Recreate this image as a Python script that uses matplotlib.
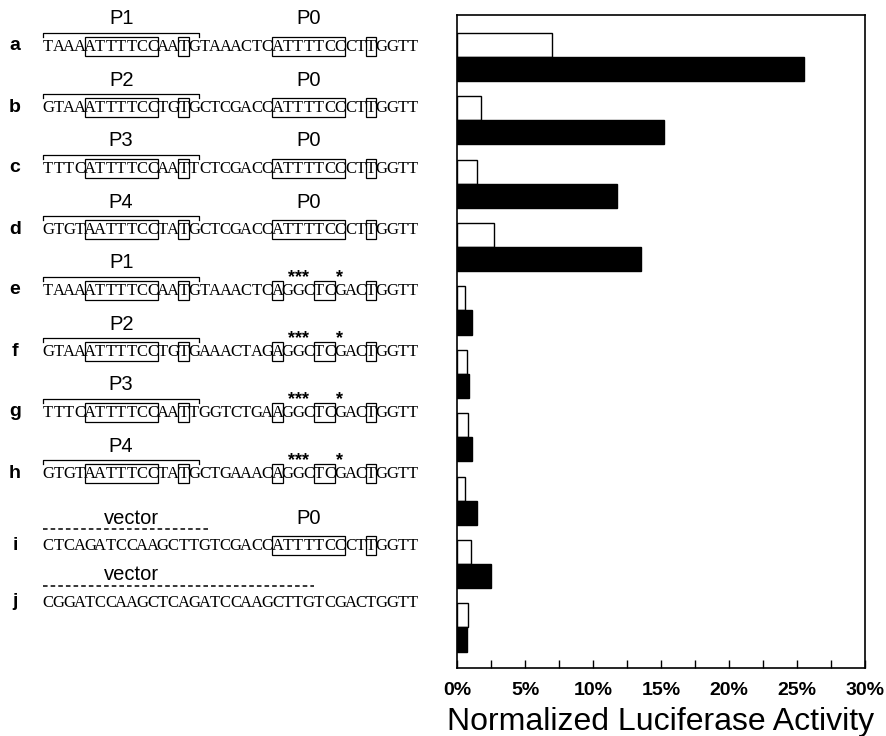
import matplotlib
matplotlib.use("Agg")
import matplotlib.pyplot as plt
from matplotlib.patches import Rectangle
from matplotlib.ticker import MultipleLocator, FuncFormatter

# --------------------------------------------------------------------------- #
# Data.
# --------------------------------------------------------------------------- #
row_letters = ["a", "b", "c", "d", "e", "f", "g", "h", "i", "j"]
sequences = [
    "TAAAATTTTCCAATGTAAACTCATTTTCCCTTGGTT",
    "GTAAATTTTCCTGTGCTCGACCATTTTCCCTTGGTT",
    "TTTCATTTTCCAATTCTCGACCATTTTCCCTTGGTT",
    "GTGTAATTTCCTATGCTCGACCATTTTCCCTTGGTT",
    "TAAAATTTTCCAATGTAAACTCAGGCTCGACTGGTT",
    "GTAAATTTTCCTGTGAAACTAGAGGCTCGACTGGTT",
    "TTTCATTTTCCAATTGGTCTGAAGGCTCGACTGGTT",
    "GTGTAATTTCCTATGCTGAAACAGGCTCGACTGGTT",
    "CTCAGATCCAAGCTTGTCGACCATTTTCCCTTGGTT",
    "CGGATCCAAGCTCAGATCCAAGCTTGTCGACTGGTT",
]
left_labels = ["P1", "P2", "P3", "P4", "P1", "P2", "P3", "P4", "vector", "vector"]
p0_present = [True, True, True, True, False, False, False, False, True, False]
# boxed nucleotides as (first index, count)
p_boxes = [(4, 7), (13, 1)]
p0_boxes = [(22, 7), (31, 1)]
mut_boxes = [(22, 1), (26, 2), (31, 1)]
# mutated positions marked with stars: (centre index, marker text)
mut_stars = [(24, "***"), (28, "*")]
bracket_len = 15
vector_len = {8: 16, 9: 26}

open_vals = [7.0, 1.8, 1.5, 2.7, 0.6, 0.7, 0.8, 0.6, 1.0, 0.8]
filled_vals = [25.5, 15.2, 11.8, 13.5, 1.1, 0.9, 1.1, 1.5, 2.5, 0.7]

# --------------------------------------------------------------------------- #
# Figure.
# --------------------------------------------------------------------------- #
W, H = 886, 736
fig = plt.figure(figsize=(W / 100, H / 100), dpi=100)

# left panel in pixel coordinates
axs = fig.add_axes([0, 0, 1, 1])
axs.set_xlim(0, W)
axs.set_ylim(H, 0)
axs.axis("off")

x0 = 43
cw = 10.42
row_y = [46, 107, 168, 229, 290, 351, 412, 473, 545, 602]
serif = "Liberation Serif"
sans = "Liberation Sans"


def cx(i):
    return x0 + (i + 0.5) * cw


def draw_box(y, start, n):
    axs.add_patch(Rectangle((x0 + start * cw, y - 9), n * cw, 19,
                            fill=False, lw=0.9, ec="black"))


for k, seq in enumerate(sequences):
    y = row_y[k]
    axs.text(15, y, row_letters[k], ha="center", va="center",
             fontsize=14, fontweight="bold", family=sans)
    for i, ch in enumerate(seq):
        axs.text(cx(i), y + 1, ch, ha="center", va="center",
                 fontsize=12, family=serif)

    if k in vector_len:
        n = vector_len[k]
        axs.plot([x0, x0 + n * cw], [y - 16, y - 16], color="black",
                 lw=1.1, ls=(0, (3, 2)))
        axs.text(cx(8), y - 27, left_labels[k], ha="center", va="center",
                 fontsize=14.5, family=sans)
    else:
        by = y - 13
        xe = x0 + bracket_len * cw
        axs.plot([x0, x0, xe, xe], [by + 4, by, by, by + 4],
                 color="black", lw=0.9)
        axs.text((x0 + xe) / 2, y - 27, left_labels[k], ha="center",
                 va="center", fontsize=14.5, family=sans)
        for s, n in p_boxes:
            draw_box(y, s, n)

    if p0_present[k]:
        for s, n in p0_boxes:
            draw_box(y, s, n)
        axs.text(x0 + 25.5 * cw, y - 27, "P0", ha="center", va="center",
                 fontsize=14.5, family=sans)
    elif k < 8:
        for s, n in mut_boxes:
            draw_box(y, s, n)
        for i, mark in mut_stars:
            axs.text(cx(i), y - 12, mark, ha="center", va="center",
                     fontsize=13, fontweight="bold", family=sans)

# --------------------------------------------------------------------------- #
# Bar chart.
# --------------------------------------------------------------------------- #
L, R, T, B = 457, 865, 15, 668
ax = fig.add_axes([L / W, 1 - B / H, (R - L) / W, (B - T) / H])

ypos = list(range(len(open_vals)))
h = 0.38
ax.barh([p - h / 2 for p in ypos], open_vals, height=h, color="white",
        edgecolor="black", lw=1.0)
ax.barh([p + h / 2 for p in ypos], filled_vals, height=h, color="black",
        edgecolor="black", lw=1.0)

ax.set_xlim(0, 30)
ax.set_ylim(9.64, -0.66)
ax.set_yticks([])
ax.xaxis.set_major_locator(MultipleLocator(5))
ax.xaxis.set_minor_locator(MultipleLocator(2.5))
ax.xaxis.set_major_formatter(FuncFormatter(lambda v, _: f"{v:.0f}%"))
ax.tick_params(axis="x", which="both", direction="in", length=6, width=1,
               pad=10, labelsize=14)
for lab in ax.get_xticklabels():
    lab.set_fontweight("bold")
    lab.set_family(sans)
for sp in ax.spines.values():
    sp.set_linewidth(1.2)
ax.set_xlabel("Normalized Luciferase Activity", fontsize=23, family=sans)
ax.xaxis.label.set_va("center")
ax.xaxis.set_label_coords(0.5, (B - 722) / (B - T))

fig.savefig("out.png", dpi=100)
